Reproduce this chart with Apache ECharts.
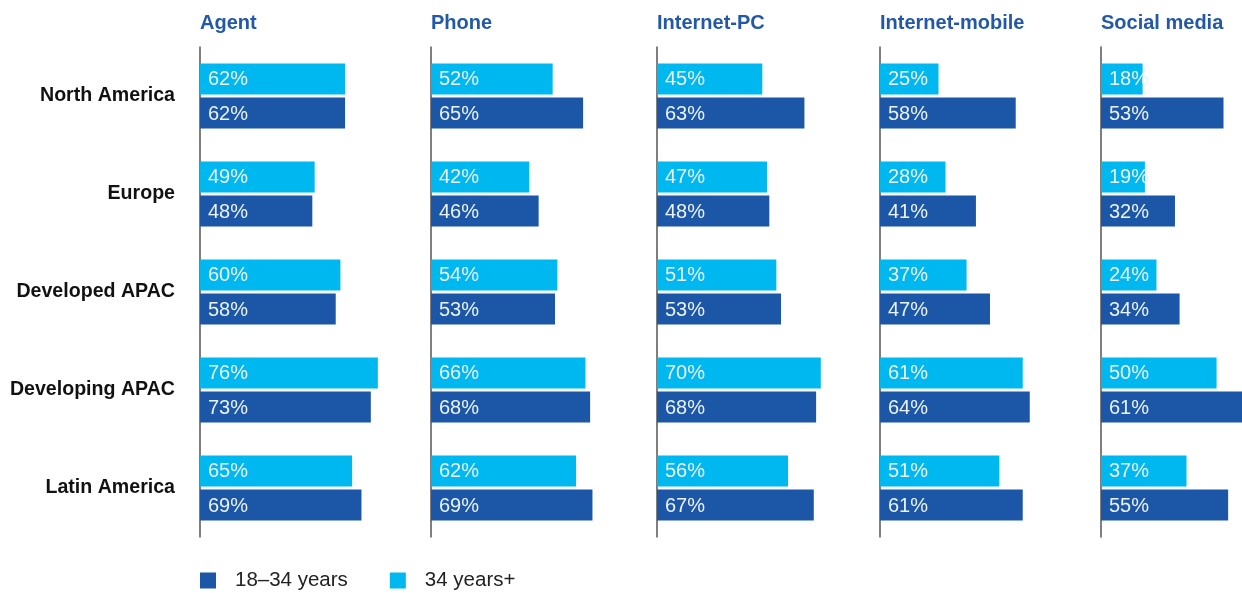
<!DOCTYPE html>
<html>
<head>
<meta charset="utf-8">
<script src="https://cdn.jsdelivr.net/npm/echarts@6/dist/echarts.min.js"></script>
<style>
  html, body { margin: 0; padding: 0; background: #fff; }
  #chart { width: 1242px; height: 593px; }
</style>
</head>
<body>
<div id="chart"></div>
<script>
var regions = ['North America', 'Europe', 'Developed APAC', 'Developing APAC', 'Latin America'];
var channels = ['Agent', 'Phone', 'Internet-PC', 'Internet-mobile', 'Social media'];

// 34 years+ (light blue)
var older = [
  [62, 49, 60, 76, 65],
  [52, 42, 54, 66, 62],
  [45, 47, 51, 70, 56],
  [25, 28, 37, 61, 51],
  [18, 19, 24, 50, 37]
];
// 18–34 years (dark blue)
var younger = [
  [62, 48, 58, 73, 69],
  [65, 46, 53, 68, 69],
  [63, 48, 53, 68, 67],
  [58, 41, 47, 64, 61],
  [53, 32, 34, 61, 55]
];

var lefts = [200, 431, 657, 880, 1101];
var DARK = '#1c56a6';
var LIGHT = '#00b8f0';
var FONT = '"Liberation Sans", Arial, sans-serif';
var PX_PER_PCT = 2.34;

var grids = [], xAxes = [], yAxes = [], series = [], titles = [];

channels.forEach(function (ch, i) {
  // last panel runs into the page edge, so give it a narrower box and a smaller max
  var w = i === 4 ? 1242 - lefts[i] : 100 * PX_PER_PCT;
  var pp = i === 4 ? 141 / 61 : PX_PER_PCT;
  grids.push({ left: lefts[i], top: 47, width: w, height: 490 });
  titles.push({
    text: ch, left: lefts[i], top: 13, padding: 0,
    textStyle: { fontFamily: FONT, fontSize: 20, fontWeight: 'bold', color: '#2358a8' }
  });
  xAxes.push({
    type: 'value', gridIndex: i, min: 0, max: w / pp,
    show: false
  });
  yAxes.push({
    type: 'category', gridIndex: i, data: regions, inverse: true,
    axisLine: { show: true, lineStyle: { color: '#555', width: 1.5 } },
    axisTick: { show: false },
    axisLabel: {
      show: i === 0, margin: 25, fontFamily: FONT, fontSize: 19.6,
      fontWeight: 'bold', color: '#111'
    }
  });
  var lbl = {
    show: true, position: 'insideLeft', distance: 8, offset: [0, 1],
    formatter: '{c}%', fontFamily: FONT, fontSize: 20, color: '#eaf2fb'
  };
  series.push({
    name: '34 years+', type: 'bar', xAxisIndex: i, yAxisIndex: i,
    data: older[i], barWidth: 31, barGap: '10%', clip: false,
    itemStyle: { color: LIGHT }, label: lbl, silent: true
  });
  series.push({
    name: '18–34 years', type: 'bar', xAxisIndex: i, yAxisIndex: i,
    data: younger[i], barWidth: 31, barGap: '10%', clip: false,
    itemStyle: { color: DARK }, label: lbl, silent: true
  });
});

var chart = echarts.init(document.getElementById('chart'));
chart.setOption({
  animation: false,
  title: titles,
  grid: grids,
  xAxis: xAxes,
  yAxis: yAxes,
  legend: {
    data: ['18–34 years', '34 years+'],
    left: 200, top: 570, padding: 0, icon: 'rect',
    itemWidth: 16, itemHeight: 16, itemGap: 42,
    textStyle: { fontFamily: FONT, fontSize: 20.5, color: '#222', padding: [0, 0, 0, 14] }
  },
  series: series
});
</script>
</body>
</html>
